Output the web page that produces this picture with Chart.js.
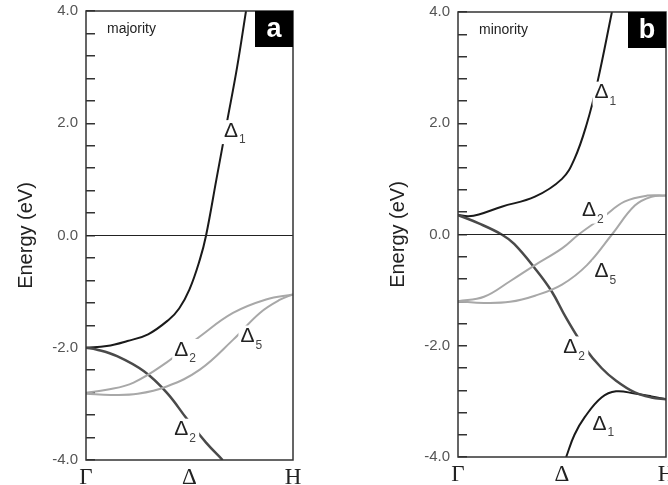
<!DOCTYPE html>
<html>
<head>
<meta charset="utf-8">
<script src="https://cdn.jsdelivr.net/npm/chart.js@4/dist/chart.umd.min.js"></script>
<style>
  body { margin: 0; background: #fff; }
  #wrap { width: 668px; height: 485px; position: relative; overflow: hidden; }
  canvas { position: absolute; top: 0; }
</style>
</head>
<body>
<div id="wrap">
  <canvas id="majority" width="334" height="485" style="left:0"></canvas>
  <canvas id="minority" width="334" height="485" style="left:334px"></canvas>
</div>
<script>
// k path Gamma -> H
var kLabels = ['Γ', 'Δ', 'H'];
var zeroK = [0, 1];
var zeroE = [0, 0];

// panel a, majority spin
var majD1K = [0, 0.1, 0.2, 0.3, 0.4, 0.45, 0.5, 0.55, 0.58, 0.63, 0.68, 0.73, 0.773];
var majD1E = [-2.0, -1.97, -1.88, -1.76, -1.5, -1.3, -0.96, -0.43, 0, 1.0, 2.0, 3.0, 4.0];
var majD2K = [0, 0.05, 0.15, 0.28, 0.39, 0.49, 0.58, 0.66];
var majD2E = [-2.0, -2.03, -2.15, -2.42, -2.8, -3.28, -3.69, -4.0];
var majD2gK = [0, 0.1, 0.23, 0.39, 0.55, 0.71, 0.87, 1];
var majD2gE = [-2.8, -2.75, -2.62, -2.26, -1.8, -1.38, -1.14, -1.05];
var majD5K = [0, 0.12, 0.25, 0.39, 0.55, 0.71, 0.84, 0.94, 1];
var majD5E = [-2.82, -2.84, -2.82, -2.69, -2.39, -1.86, -1.38, -1.14, -1.05];

// panel b, minority spin
var minD1K = [0, 0.05, 0.1, 0.21, 0.37, 0.5, 0.56, 0.62, 0.67, 0.74];
var minD1E = [0.35, 0.33, 0.36, 0.5, 0.68, 1.0, 1.36, 2.0, 2.73, 4.0];
var minD2K = [0, 0.1, 0.21, 0.27, 0.37, 0.45, 0.52, 0.61, 0.69, 0.76, 0.85, 0.93, 1];
var minD2E = [0.35, 0.2, 0, -0.17, -0.61, -1.02, -1.5, -2.04, -2.4, -2.63, -2.84, -2.93, -2.96];
var minD1lowK = [0.52, 0.56, 0.61, 0.69, 0.76, 0.85, 0.93, 1];
var minD1lowE = [-4.0, -3.6, -3.28, -2.93, -2.82, -2.86, -2.91, -2.96];
var minD2gK = [0, 0.125, 0.25, 0.37, 0.5, 0.58, 0.7, 0.8, 0.91, 1];
var minD2gE = [-1.2, -1.12, -0.84, -0.55, -0.25, 0, 0.32, 0.59, 0.7, 0.7];
var minD5K = [0, 0.125, 0.25, 0.37, 0.5, 0.62, 0.74, 0.85, 0.93, 1];
var minD5E = [-1.2, -1.23, -1.21, -1.1, -0.9, -0.55, 0, 0.52, 0.68, 0.7];

function pts(k, e) {
    return k.map(function (x, i) { return { x: x, y: e[i] }; });
}

function band(k, e, color, width) {
    return {
        data: pts(k, e),
        borderColor: color,
        borderWidth: width,
        showLine: true,
        pointRadius: 0,
        tension: 0.4,
        fill: false
    };
}

// labels drawn in data coordinates: [k, E, main, sub]
function labelsPlugin(spin, letter, items) {
    return {
        id: 'bandLabels',
        afterDatasetsDraw: function (chart) {
            var ctx = chart.ctx, xs = chart.scales.x, ys = chart.scales.y;
            ctx.save();
            items.forEach(function (it) {
                var px = xs.getPixelForValue(it[0]), py = ys.getPixelForValue(it[1]);
                ctx.font = '21px "Liberation Sans"';
                var w = ctx.measureText(it[2]).width;
                ctx.fillStyle = '#fff';
                ctx.fillRect(px - w / 2 - 2, py - 11, w + 13, 24);
                ctx.fillStyle = '#222';
                ctx.textAlign = 'center';
                ctx.textBaseline = 'middle';
                ctx.fillText(it[2], px, py);
                ctx.font = '12px "Liberation Sans"';
                ctx.fillStyle = '#444';
                ctx.textAlign = 'left';
                ctx.fillText(it[3], px + w / 2 + 1, py + 9);
            });
            // spin caption
            ctx.font = '14px "Liberation Sans"';
            ctx.fillStyle = '#222';
            ctx.textAlign = 'left';
            ctx.textBaseline = 'middle';
            ctx.fillText(spin, chart.chartArea.left + 21, chart.chartArea.top + 18);
            ctx.restore();
        },
        afterDraw: function (chart) {
            var ctx = chart.ctx, a = chart.chartArea;
            ctx.save();
            ctx.strokeStyle = '#333';
            ctx.lineWidth = 1.5;
            ctx.strokeRect(a.left, a.top, a.right - a.left, a.bottom - a.top);
            // panel letter box
            ctx.fillStyle = '#000';
            ctx.fillRect(a.right - 38, a.top, 38, 36);
            ctx.fillStyle = '#fff';
            ctx.font = 'bold 27px "Liberation Sans"';
            ctx.textAlign = 'center';
            ctx.textBaseline = 'middle';
            ctx.fillText(letter, a.right - 19, a.top + 19);
            ctx.restore();
        }
    };
}

function makeChart(id, datasets, padLeft, padRight, padTop, xHeight, plugin) {
    var ctx = document.getElementById(id).getContext('2d');
    return new Chart(ctx, {
        type: 'scatter',
        data: { datasets: datasets },
        plugins: [plugin],
        options: {
            responsive: false,
            animation: false,
            devicePixelRatio: 1,
            layout: { padding: { left: padLeft, right: padRight, top: padTop, bottom: 0 } },
            plugins: { legend: { display: false }, tooltip: { enabled: false } },
            scales: {
                x: {
                    type: 'linear', min: 0, max: 1,
                    border: { display: false },
                    grid: { display: false },
                    afterBuildTicks: function (s) {
                        s.ticks = [{ value: 0 }, { value: 0.5 }, { value: 1 }];
                    },
                    afterFit: function (s) { s.height = xHeight; s.paddingLeft = 0; s.paddingRight = 0; },
                    ticks: {
                        autoSkip: false, maxRotation: 0, padding: -4,
                        color: '#222',
                        font: { family: '"Liberation Serif"', size: 23 },
                        callback: function (v) { return kLabels[Math.round(v * 2)]; }
                    }
                },
                y: {
                    min: -4, max: 4,
                    border: { display: false },
                    grid: { drawOnChartArea: false, tickLength: -9, color: '#333', lineWidth: 1.5 },
                    afterFit: function (s) { s.width = 86; s.paddingTop = 0; s.paddingBottom = 0; },
                    ticks: {
                        stepSize: 0.4, autoSkip: false, padding: 17,
                        color: '#555',
                        font: { family: '"Liberation Sans"', size: 15 },
                        callback: function (v) {
                            return Math.abs(v / 2 - Math.round(v / 2)) < 1e-6 ? v.toFixed(1) : '';
                        }
                    },
                    title: {
                        display: true, text: 'Energy (eV)', color: '#222',
                        font: { family: '"Liberation Sans"', size: 20 },
                        padding: { top: 14, bottom: 0 }
                    }
                }
            }
        }
    });
}

makeChart('majority', [
    band(zeroK, zeroE, '#222', 1.2),
    band(majD5K, majD5E, '#a8a8a8', 2),
    band(majD2gK, majD2gE, '#a8a8a8', 2),
    band(majD2K, majD2E, '#4a4a4a', 2.5),
    band(majD1K, majD1E, '#1a1a1a', 2)
], 0, 41, 11, 25, labelsPlugin('majority', 'a', [
    [0.70, 1.86, 'Δ', '1'],
    [0.46, -2.04, 'Δ', '2'],
    [0.78, -1.8, 'Δ', '5'],
    [0.46, -3.46, 'Δ', '2']
]));

makeChart('minority', [
    band(zeroK, zeroE, '#222', 1.2),
    band(minD5K, minD5E, '#a8a8a8', 2),
    band(minD2gK, minD2gE, '#a8a8a8', 2),
    band(minD2K, minD2E, '#4a4a4a', 2.5),
    band(minD1lowK, minD1lowE, '#1a1a1a', 2),
    band(minD1K, minD1E, '#1a1a1a', 2)
], 38, 2, 12, 28, labelsPlugin('minority', 'b', [
    [0.69, 2.55, 'Δ', '1'],
    [0.63, 0.43, 'Δ', '2'],
    [0.69, -0.66, 'Δ', '5'],
    [0.54, -2.03, 'Δ', '2'],
    [0.68, -3.41, 'Δ', '1']
]));
</script>
</body>
</html>
